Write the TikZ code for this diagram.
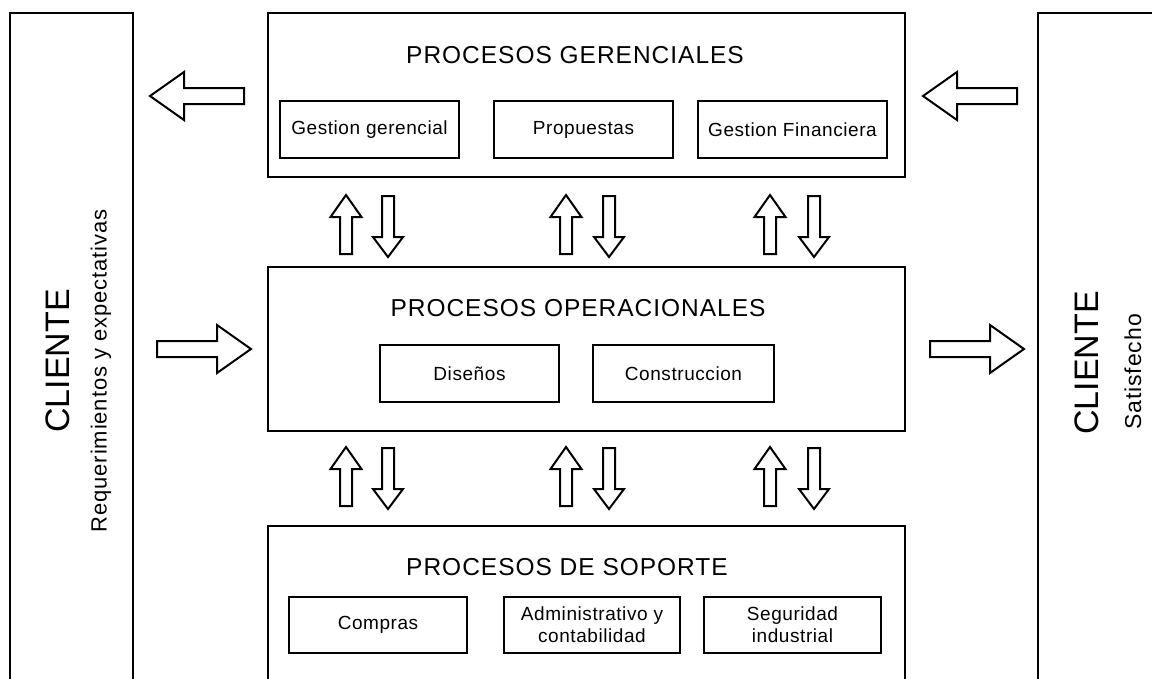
\documentclass[tikz,border=0pt]{standalone}
\usepackage{fontspec}
\setmainfont{Liberation Sans}
\newfontfamily\pf[LetterSpace=3]{Liberation Sans}
\newfontfamily\tf[LetterSpace=4]{Liberation Sans}
\begin{document}
\begin{tikzpicture}[x=1pt,y=-1pt,
  box/.style={draw, line width=2.5pt, inner sep=0pt},
  sub/.style={draw, line width=2.5pt, inner sep=0pt, minimum height=57pt, align=center, font=\pf\fontsize{19}{22}\selectfont},
  ttl/.style={font=\tf\fontsize{24.5}{28}\selectfont},
  blk/.style={draw, line width=2pt, fill=white, line join=miter},
  harrow/.pic={\draw[blk] (0,0) -- (-34,-24) -- (-34,-8) -- (-94,-8) -- (-94,8) -- (-34,8) -- (-34,24) -- cycle;},
  uparrow/.pic={\draw[blk] (0,0) -- (15.5,22) -- (6,22) -- (6,59) -- (-6,59) -- (-6,22) -- (-15.5,22) -- cycle;},
  downarrow/.pic={\draw[blk] (0,0) -- (15,-20) -- (6,-20) -- (6,-61) -- (-6,-61) -- (-6,-20) -- (-15,-20) -- cycle;}
]
\useasboundingbox (0,0) rectangle (1152,678);
\clip (0,0) rectangle (1152,678);
\fill[white] (0,0) rectangle (1152,678);

% client columns
\node[box, minimum width=123pt, minimum height=677pt] (cli) at (71.5,351.5) {};
\node[box, minimum width=132pt, minimum height=677pt] (clr) at (1104,351.5) {};
\node[rotate=90, font=\fontsize{34}{40}\selectfont] (clit) at (57.5,361) {CLIENTE};
\node[rotate=90, font=\tf\fontsize{22}{26}\selectfont] (req) at (101,371) {Requerimientos y expectativas};
\node[rotate=90, font=\fontsize{34}{40}\selectfont] (clrt) at (1087,363) {CLIENTE};
\node[rotate=90, font=\tf\fontsize{23}{26}\selectfont] (sat) at (1133,372) {Satisfecho};

% gerenciales
\node[box, minimum width=637pt, minimum height=164pt] (ger) at (586.5,95) {};
\node[ttl] (gert) at (575,55) {PROCESOS GERENCIALES};
\node[sub, minimum width=179pt] (gg) at (369.5,129.5) {Gestion gerencial};
\node[sub, minimum width=179pt] (pr) at (583.5,129.5) {Propuestas};
\node[sub, minimum width=189pt] (gf) at (792.5,129.5) {Gestion Financiera};

% operacionales
\node[box, minimum width=637pt, minimum height=164pt] (ope) at (586.5,349) {};
\node[ttl] (opet) at (578,308) {PROCESOS OPERACIONALES};
\node[sub, minimum width=179pt] (dis) at (469.5,373.5) {Diseños};
\node[sub, minimum width=181pt] (con) at (683.5,373.5) {Construccion};

% soporte
\node[box, minimum width=637pt, minimum height=164pt] (sop) at (586.5,608) {};
\node[ttl] (sopt) at (567,567) {PROCESOS DE SOPORTE};
\node[sub, minimum width=178pt, minimum height=56pt] (com) at (378,625) {Compras};
\node[sub, minimum width=176pt, minimum height=56pt] (adm) at (592,625) {Administrativo y\\contabilidad};
\node[sub, minimum width=177pt, minimum height=56pt] (seg) at (792.5,625) {Seguridad\\industrial};

% horizontal block arrows
\pic[xscale=-1] (a1) at (150,96) {harrow};
\pic[xscale=-1] (a2) at (923,96) {harrow};
\pic (a3) at (251,349) {harrow};
\pic (a4) at (1024,349) {harrow};

% vertical block arrows
\foreach \u/\d [count=\i] in {346/388, 566/609, 770/814} {
  \pic (u\i) at (\u,195) {uparrow};
  \pic (d\i) at (\d,257) {downarrow};
  \pic (lu\i) at (\u,447) {uparrow};
  \pic (ld\i) at (\d,509) {downarrow};
}
\end{tikzpicture}
\end{document}
